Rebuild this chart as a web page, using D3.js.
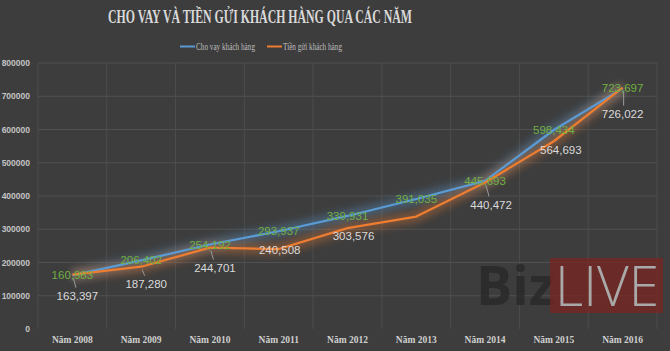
<!DOCTYPE html>
<html>
<head>
<meta charset="utf-8">
<script src="https://cdn.jsdelivr.net/npm/d3@7"></script>
<style>
  html, body { margin: 0; padding: 0; background: #3d3d3d; }
  svg { display: block; }
</style>
</head>
<body>
<script>
/* data */
var years = ['Năm 2008', 'Năm 2009', 'Năm 2010', 'Năm 2011', 'Năm 2012', 'Năm 2013', 'Năm 2014', 'Năm 2015', 'Năm 2016']
var loans = [160983, 206402, 254192, 293937, 339931, 391035, 445693, 598434, 723697]
var deposits = [163397, 187280, 244701, 240508, 303576, 338000, 440472, 564693, 726022]
var depositShown = [true, true, true, true, true, false, true, true, true]
var yTicks = [0, 100000, 200000, 300000, 400000, 500000, 600000, 700000, 800000]
var seriesNames = ['Cho vay khách hàng', 'Tiền gửi khách hàng']
var title = 'CHO VAY VÀ TIỀN GỬI KHÁCH HÀNG QUA CÁC NĂM'

/* label nudges for the deposit series (px) */
var depOffset = [[5, 21], [5, 17], [5, 20], [1, 1], [6, 8], [0, 0], [6, 22], [7, 9], [0, 26]]

/* setup */
var width = 670
var height = 351
var margin = { top: 63, right: 13, bottom: 22, left: 38 }

var svg = d3.select('body').append('svg')
    .attr('width', width)
    .attr('height', height)

svg.append('rect').attr('width', width).attr('height', height).attr('fill', '#3d3d3d')

var defs = svg.append('defs')
defs.append('filter').attr('id', 'glow')
    .attr('x', '-20%').attr('y', '-50%').attr('width', '140%').attr('height', '200%')
    .append('feGaussianBlur').attr('stdDeviation', 4)

var x = d3.scaleBand().domain(years)
    .range([margin.left, width - margin.right])
var y = d3.scaleLinear().domain([0, 800000])
    .range([height - margin.bottom, margin.top])

/* grid */
var grid = svg.append('g')
grid.selectAll('line.h').data(yTicks.slice(1)).enter().append('line')
    .attr('x1', margin.left).attr('x2', width - margin.right)
    .attr('y1', function(d) { return y(d) }).attr('y2', function(d) { return y(d) })
    .attr('stroke', '#515151').attr('stroke-width', 1)
var bounds = years.map(function(d) { return x(d) }).concat([width - margin.right])
grid.selectAll('line.v').data(bounds).enter().append('line')
    .attr('x1', function(d) { return d }).attr('x2', function(d) { return d })
    .attr('y1', y(800000)).attr('y2', y(0))
    .attr('stroke', '#4d4d4d').attr('stroke-width', 1)

/* axes */
var yAxis = d3.axisLeft(y).tickValues(yTicks).tickSize(0).tickPadding(8)
    .tickFormat(function(d) { return d })
svg.append('g').attr('transform', 'translate(' + margin.left + ',0)').call(yAxis)
    .call(function(g) { g.select('.domain').remove() })
    .selectAll('text')
    .attr('fill', '#c4c4c4')
    .style('font', 'bold 8.5px "Liberation Sans", Arial, sans-serif')

var xAxis = d3.axisBottom(x).tickSize(0).tickPadding(7)
svg.append('g').attr('transform', 'translate(0,' + y(0) + ')').call(xAxis)
    .call(function(g) { g.select('.domain').remove() })
    .selectAll('text')
    .attr('fill', '#cfcfcf')
    .style('font', 'bold 9.5px "Liberation Serif", "DejaVu Serif", serif')

/* watermark */
var wm = svg.append('g')
wm.append('text').attr('x', 476).attr('y', 305)
    .attr('fill', '#2b2b2b').attr('opacity', 0.9)
    .style('font', 'bold 54px "Open Sans", "Liberation Sans", sans-serif')
    .text('Biz')
wm.append('rect').attr('x', 550).attr('y', 258).attr('width', 113).attr('height', 55)
    .attr('fill', '#7a2522').attr('opacity', 0.75)
wm.append('text').attr('x', 555).attr('y', 306)
    .attr('fill', '#a9a9a9').attr('textLength', 104).attr('lengthAdjust', 'spacingAndGlyphs')
    .style('font', '300 56px "Open Sans", "Liberation Sans", sans-serif')
    .text('LIVE')

/* lines */
var line = d3.line()
    .x(function(d, i) { return x(years[i]) + x.bandwidth() / 2 })
    .y(function(d) { return y(d) })

var series = [
    { values: loans, color: '#5b9bd5' },
    { values: deposits, color: '#ed7d31' }
]
series.forEach(function(s) {
    svg.append('path').datum(s.values)
        .attr('d', line).attr('fill', 'none')
        .attr('stroke', s.color).attr('stroke-width', 10).attr('opacity', 0.4)
        .attr('stroke-linejoin', 'round')
        .attr('filter', 'url(#glow)')
})
series.forEach(function(s) {
    svg.append('path').datum(s.values)
        .attr('d', line).attr('fill', 'none')
        .attr('stroke', s.color).attr('stroke-width', 2.25)
        .attr('stroke-linejoin', 'round')
})

/* leader lines for deposit labels */
var fmt = d3.format(',')
var cx = function(i) { return x(years[i]) + x.bandwidth() / 2 }
var depIdx = d3.range(deposits.length).filter(function(i) { return depositShown[i] })

svg.append('g').selectAll('line').data(depIdx.filter(function(i) { return depOffset[i][1] > 15 }))
    .enter().append('line')
    .attr('x1', function(i) { return cx(i) + 1 })
    .attr('y1', function(i) { return y(deposits[i]) + 3 })
    .attr('x2', function(i) { return cx(i) + depOffset[i][0] * 0.5 + 1 })
    .attr('y2', function(i) { return y(deposits[i]) + depOffset[i][1] - 8 })
    .attr('stroke', '#9a9a9a').attr('stroke-width', 1)

/* data labels */
svg.append('g').selectAll('text').data(loans).enter().append('text')
    .attr('x', function(d, i) { return cx(i) })
    .attr('y', function(d) { return y(d) })
    .attr('dy', '0.35em')
    .attr('text-anchor', 'middle')
    .attr('fill', '#6fb043')
    .style('font', '11.5px "Liberation Sans", Arial, sans-serif')
    .text(function(d) { return fmt(d) })

svg.append('g').selectAll('text').data(depIdx).enter().append('text')
    .attr('x', function(i) { return cx(i) + depOffset[i][0] })
    .attr('y', function(i) { return y(deposits[i]) + depOffset[i][1] })
    .attr('dy', '0.35em')
    .attr('text-anchor', 'middle')
    .attr('fill', '#dadada')
    .style('font', '11.5px "Liberation Sans", Arial, sans-serif')
    .text(function(i) { return fmt(deposits[i]) })

/* title */
svg.append('text').attr('x', 108).attr('y', 23)
    .attr('textLength', 304).attr('lengthAdjust', 'spacingAndGlyphs')
    .attr('fill', '#d9d9d9')
    .style('font', 'bold 18px "Liberation Serif", "DejaVu Serif", serif')
    .text(title)

/* legend */
var legend = svg.append('g')
var legendX = [180, 267]
seriesNames.forEach(function(name, i) {
    legend.append('line')
        .attr('x1', legendX[i]).attr('x2', legendX[i] + 15)
        .attr('y1', 46.5).attr('y2', 46.5)
        .attr('stroke', series[i].color).attr('stroke-width', 2)
    legend.append('text')
        .attr('x', legendX[i] + 16).attr('y', 47).attr('dy', '0.35em')
        .attr('textLength', 59).attr('lengthAdjust', 'spacingAndGlyphs')
        .attr('fill', '#bdbdbd')
        .style('font', '9.5px "Liberation Serif", "DejaVu Serif", serif')
        .text(name)
})
</script>
</body>
</html>
